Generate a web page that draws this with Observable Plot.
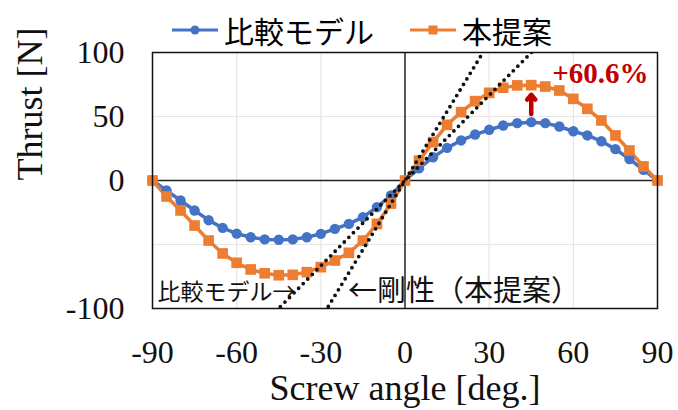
<!DOCTYPE html>
<html>
<head>
<meta charset="utf-8">
<script src="https://cdn.jsdelivr.net/npm/d3@7"></script>
<script src="https://cdn.jsdelivr.net/npm/@observablehq/plot@0.6"></script>
<style>
  html, body { margin: 0; padding: 0; background: #fff; }
  #wrap { position: relative; width: 678px; height: 410px; }
  #legend { position: absolute; left: 0; top: 0; width: 678px; height: 50px; font-family: "Noto Sans CJK JP", sans-serif; font-size: 30px; color: #000; }
  .item { position: absolute; top: 10px; display: flex; align-items: center; height: 40px; }
  .item svg { margin-right: 6px; }
</style>
</head>
<body>
<div id="wrap">
  <div id="chart"></div>
  <div id="legend"></div>
</div>
<script>
// ---- data ----
const seriesNames = ["比較モデル", "本提案"];
const seriesColors = ["#4472C4", "#ED7D31"];
const angles = [-90,-85,-80,-75,-70,-65,-60,-55,-50,-45,-40,-35,-30,-25,-20,-15,-10,-5,0,5,10,15,20,25,30,35,40,45,50,55,60,65,70,75,80,85,90];
const thrustCompare = [0,-7.8,-15.6,-23.4,-31,-37,-41.5,-44.3,-46,-46.3,-46,-44.3,-41.7,-37.8,-33.9,-28.6,-20.8,-11.7,0,9.5,18.2,25.5,31.3,35.9,39.6,43,44.8,45.6,44.8,42.2,38.5,35.2,30.7,24.5,16.8,8.3,0];
const thrustProposed = [0,-12.5,-23.4,-35.2,-46.9,-57,-64.3,-69.5,-72.5,-74,-73.7,-71.6,-67.7,-62.5,-56.5,-46.9,-33.9,-18,0,15.5,30,43.5,53.4,62,68.5,72.5,74.3,74.5,73.4,70.3,63.8,56,46.9,35.2,23.4,11,0];
const stiffnessSlopes = [2.22, 3.6];          // N/deg: 比較モデル, 本提案
const stiffnessRange = [-90, 90];
const xTicks = [-90, -60, -30, 0, 30, 60, 90];
const yTicks = [100, 50, 0, -100];
const gridX = [-60, -30, 30, 60];
const gridY = [50, -50];
const gainLabel = "+60.6%";
const gainArrow = {angle: 45, from: 52, to: 67};
const annotations = [
  {text: "比較モデル→", x: -88.2, y: -87.5, size: 23},
  {text: "←剛性（本提案）", x: -20.3, y: -86.5, size: 29}
];

// ---- build tables ----
const pts = [];
angles.forEach((a, i) => {
  pts.push({angle: a, thrust: thrustCompare[i], s: seriesNames[0]});
  pts.push({angle: a, thrust: thrustProposed[i], s: seriesNames[1]});
});
const stiffLines = [];
stiffnessSlopes.forEach((k, j) => {
  stiffnessRange.forEach(a => stiffLines.push({angle: a, thrust: k * a, id: j}));
});

const serif = "Liberation Serif, Times New Roman, serif";
const jp = "Noto Sans CJK JP, sans-serif";
const fmt = d => String(d);

const chart = Plot.plot({
  width: 678,
  height: 410,
  marginLeft: 152,
  marginRight: 21,
  marginTop: 52,
  marginBottom: 102,
  style: {fontFamily: serif, background: "#fff", overflow: "visible"},
  x: {domain: [-90, 90]},
  y: {domain: [-100, 100]},
  marks: [
    Plot.ruleX(gridX, {stroke: "#e6e6e6", strokeWidth: 1.2}),
    Plot.ruleY(gridY, {stroke: "#e6e6e6", strokeWidth: 1.2}),
    Plot.ruleY([0], {stroke: "#222", strokeWidth: 1.5}),
    Plot.ruleX([0], {stroke: "#222", strokeWidth: 1.5}),
    Plot.line(pts.filter(d => d.s === seriesNames[0]), {x: "angle", y: "thrust", stroke: seriesColors[0], strokeWidth: 3.5}),
    Plot.line(pts.filter(d => d.s === seriesNames[1]), {x: "angle", y: "thrust", stroke: seriesColors[1], strokeWidth: 3.5}),
    Plot.dot(pts.filter(d => d.s === seriesNames[0]), {x: "angle", y: "thrust", fill: seriesColors[0], r: 5.2, symbol: "circle"}),
    Plot.dot(pts.filter(d => d.s === seriesNames[1]), {x: "angle", y: "thrust", fill: seriesColors[1], r: 6, symbol: "square"}),
    Plot.line(stiffLines, {x: "angle", y: "thrust", z: "id", stroke: "#111", strokeWidth: 3.8, strokeDasharray: "0 6.5", strokeLinecap: "round", clip: true}),
    Plot.arrow([gainArrow], {x1: "angle", x2: "angle", y1: "from", y2: "to", stroke: "#c00000", strokeWidth: 4.5, headLength: 10, headAngle: 80}),
    Plot.text([gainLabel], {frameAnchor: "top-right", text: d => d, dx: -9, dy: 21, fill: "#c00000", fontWeight: "bold", fontSize: 29, fontFamily: serif, lineAnchor: "middle", textAnchor: "end"}),
    Plot.text(annotations, {x: "x", y: "y", text: "text", fontSize: d => d.size, fontFamily: jp, textAnchor: "start", fill: "#111"}),
    Plot.frame({stroke: "#111", strokeWidth: 1.5}),
    Plot.axisX(xTicks, {tickSize: 0, tickPadding: 32, fontSize: 32, fontFamily: serif, fill: "#111", label: null, tickFormat: fmt}),
    Plot.axisY(yTicks, {tickSize: 0, tickPadding: 28, fontSize: 32, fontFamily: serif, fill: "#111", label: null, tickFormat: fmt}),
    Plot.text(["Screw angle [deg.]"], {frameAnchor: "bottom", text: d => d, dy: 80, lineAnchor: "middle", fontSize: 36, fontFamily: serif, fill: "#111"}),
    Plot.text(["Thrust [N]"], {frameAnchor: "left", text: d => d, dx: -122, rotate: -90, lineAnchor: "middle", fontSize: 36, fontFamily: serif, fill: "#111"})
  ]
});
document.getElementById("chart").appendChild(chart);

// ---- legend ----
const legend = document.getElementById("legend");
const legendX = [172, 410];
seriesNames.forEach((name, i) => {
  const item = document.createElement("div");
  item.className = "item";
  item.style.left = legendX[i] + "px";
  const sym = i === 0
    ? `<circle cx="23" cy="10" r="4.5" fill="${seriesColors[i]}"/>`
    : `<rect x="18.5" y="5.5" width="9" height="9" fill="${seriesColors[i]}"/>`;
  item.innerHTML = `<svg width="46" height="20"><line x1="0" y1="10" x2="46" y2="10" stroke="${seriesColors[i]}" stroke-width="3"/>${sym}</svg><span>${name}</span>`;
  legend.appendChild(item);
});
</script>
</body>
</html>
